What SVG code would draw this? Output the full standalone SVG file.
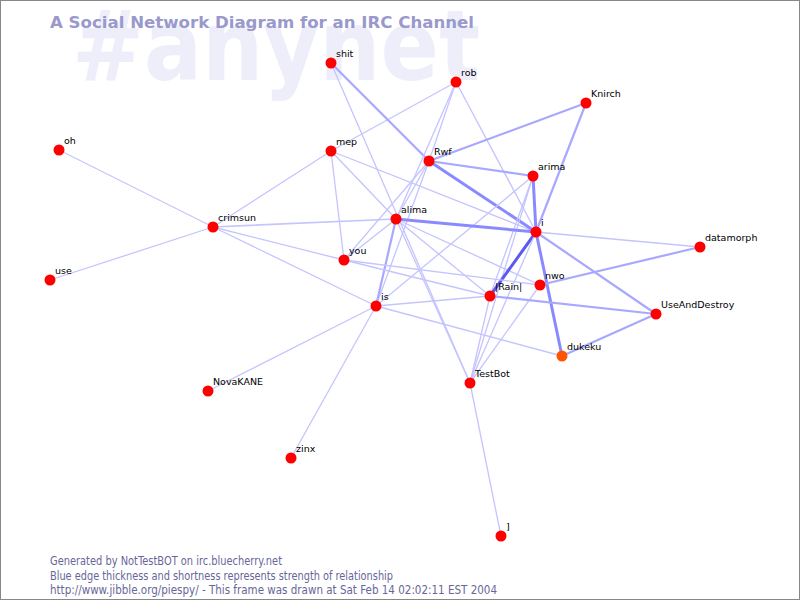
<svg xmlns="http://www.w3.org/2000/svg" width="800" height="600" viewBox="0 0 800 600">
<style>
.bg{fill:#ffffff;stroke:#888888;stroke-width:1}
.wm{font-family:"DejaVu Sans",sans-serif;font-weight:bold;font-size:98px;fill:#eeeefb}
.title{font-family:"DejaVu Sans",sans-serif;font-weight:bold;font-size:16.5px;fill:#9999cc}
.foot{font-family:"DejaVu Sans",sans-serif;font-size:11.5px;fill:#666699}
.lbl{font-family:"DejaVu Sans",sans-serif;font-size:9.5px;fill:#000000}
.n{fill:#ff0000}
.n2{fill:#ff5500}
line{stroke-linecap:round}
.t{stroke:#c4c4ff;stroke-width:1.3}
.m{stroke:#a8a8ff;stroke-width:2.2}
.k{stroke:#8a8aff;stroke-width:3}
.d{stroke:#5a5af0;stroke-width:3}
</style>
<rect class="bg" x="0.5" y="0.5" width="799" height="599"/>
<text class="wm" x="72" y="80" textLength="408" lengthAdjust="spacingAndGlyphs">#anynet</text>
<text class="title" x="50" y="28" textLength="424" lengthAdjust="spacingAndGlyphs">A Social Network Diagram for an IRC Channel</text>
<g id="connectors">
<line class="t" x1="59" y1="150" x2="213" y2="227"/>
<line class="t" x1="50" y1="280" x2="213" y2="227"/>
<line class="t" x1="213" y1="227" x2="331" y2="151"/>
<line class="t" x1="213" y1="227" x2="396" y2="219" style="stroke-width:1.7"/>
<line class="t" x1="213" y1="227" x2="344" y2="260"/>
<line class="t" x1="213" y1="227" x2="376" y2="306"/>
<line class="t" x1="208" y1="391" x2="376" y2="306"/>
<line class="t" x1="291" y1="458" x2="376" y2="306"/>
<line class="t" x1="331" y1="151" x2="456" y2="82"/>
<line class="t" x1="331" y1="151" x2="344" y2="260"/>
<line class="t" x1="331" y1="151" x2="396" y2="219"/>
<line class="t" x1="331" y1="151" x2="536" y2="232"/>
<line class="m" x1="331" y1="63" x2="429" y2="161"/>
<line class="t" x1="331" y1="63" x2="470" y2="383"/>
<line class="t" x1="456" y1="82" x2="429" y2="161"/>
<line class="t" x1="456" y1="82" x2="396" y2="219"/>
<line class="t" x1="456" y1="82" x2="536" y2="232"/>
<line class="m" x1="586" y1="103" x2="429" y2="161"/>
<line class="m" x1="586" y1="103" x2="536" y2="232"/>
<line class="m" x1="429" y1="161" x2="533" y2="176"/>
<line class="k" x1="429" y1="161" x2="536" y2="232"/>
<line class="t" x1="429" y1="161" x2="344" y2="260"/>
<line class="t" x1="429" y1="161" x2="376" y2="306"/>
<line class="t" x1="429" y1="161" x2="396" y2="219"/>
<line class="k" x1="533" y1="176" x2="536" y2="232"/>
<line class="t" x1="533" y1="176" x2="376" y2="306"/>
<line class="t" x1="533" y1="176" x2="490" y2="296"/>
<line class="t" x1="533" y1="176" x2="470" y2="383"/>
<line class="k" x1="396" y1="219" x2="536" y2="232"/>
<line class="m" x1="396" y1="219" x2="376" y2="306"/>
<line class="t" x1="396" y1="219" x2="344" y2="260"/>
<line class="t" x1="396" y1="219" x2="490" y2="296"/>
<line class="t" x1="396" y1="219" x2="540" y2="285"/>
<line class="t" x1="396" y1="219" x2="470" y2="383"/>
<line class="t" x1="536" y1="232" x2="700" y2="247"/>
<line class="d" x1="536" y1="232" x2="490" y2="296"/>
<line class="k" x1="536" y1="232" x2="562" y2="356"/>
<line class="m" x1="536" y1="232" x2="656" y2="314"/>
<line class="t" x1="536" y1="232" x2="470" y2="383"/>
<line class="m" x1="540" y1="285" x2="700" y2="247"/>
<line class="t" x1="540" y1="285" x2="470" y2="383"/>
<line class="t" x1="344" y1="260" x2="540" y2="285"/>
<line class="t" x1="344" y1="260" x2="490" y2="296"/>
<line class="t" x1="376" y1="306" x2="490" y2="296"/>
<line class="t" x1="376" y1="306" x2="562" y2="356"/>
<line class="m" x1="490" y1="296" x2="656" y2="314"/>
<line class="t" x1="490" y1="296" x2="470" y2="383"/>
<line class="t" x1="470" y1="383" x2="501" y2="536"/>
<line class="m" x1="656" y1="314" x2="562" y2="356"/>
</g>
<g id="node-shit"><circle class="n" cx="331" cy="63" r="5.5"/><text class="lbl" x="336" y="57">shit</text></g>
<g id="node-rob"><circle class="n" cx="456" cy="82" r="5.5"/><text class="lbl" x="461" y="76">rob</text></g>
<g id="node-Knirch"><circle class="n" cx="586" cy="103" r="5.5"/><text class="lbl" x="591" y="97">Knirch</text></g>
<g id="node-oh"><circle class="n" cx="59" cy="150" r="5.5"/><text class="lbl" x="64" y="144">oh</text></g>
<g id="node-mep"><circle class="n" cx="331" cy="151" r="5.5"/><text class="lbl" x="336" y="145">mep</text></g>
<g id="node-Rwf"><circle class="n" cx="429" cy="161" r="5.5"/><text class="lbl" x="434" y="155">Rwf</text></g>
<g id="node-arima"><circle class="n" cx="533" cy="176" r="5.5"/><text class="lbl" x="538" y="170">arima</text></g>
<g id="node-crimsun"><circle class="n" cx="213" cy="227" r="5.5"/><text class="lbl" x="218" y="221">crimsun</text></g>
<g id="node-alima"><circle class="n" cx="396" cy="219" r="5.5"/><text class="lbl" x="401" y="213">alima</text></g>
<g id="node-i"><circle class="n" cx="536" cy="232" r="5.5"/><text class="lbl" x="541" y="226">i</text></g>
<g id="node-datamorph"><circle class="n" cx="700" cy="247" r="5.5"/><text class="lbl" x="705" y="241">datamorph</text></g>
<g id="node-use"><circle class="n" cx="50" cy="280" r="5.5"/><text class="lbl" x="55" y="274">use</text></g>
<g id="node-you"><circle class="n" cx="344" cy="260" r="5.5"/><text class="lbl" x="349" y="254">you</text></g>
<g id="node-nwo"><circle class="n" cx="540" cy="285" r="5.5"/><text class="lbl" x="545" y="279">nwo</text></g>
<g id="node-Rain"><circle class="n" cx="490" cy="296" r="5.5"/><text class="lbl" x="495" y="290">|Rain|</text></g>
<g id="node-is"><circle class="n" cx="376" cy="306" r="5.5"/><text class="lbl" x="381" y="300">is</text></g>
<g id="node-UseAndDestroy"><circle class="n" cx="656" cy="314" r="5.5"/><text class="lbl" x="661" y="308">UseAndDestroy</text></g>
<g id="node-dukeku"><circle class="n2" cx="562" cy="356" r="5.5"/><text class="lbl" x="567" y="350">dukeku</text></g>
<g id="node-TestBot"><circle class="n" cx="470" cy="383" r="5.5"/><text class="lbl" x="475" y="377">TestBot</text></g>
<g id="node-NovaKANE"><circle class="n" cx="208" cy="391" r="5.5"/><text class="lbl" x="213" y="385">NovaKANE</text></g>
<g id="node-zinx"><circle class="n" cx="291" cy="458" r="5.5"/><text class="lbl" x="296" y="452">zinx</text></g>
<g id="node-bracket"><circle class="n" cx="501" cy="536" r="5.5"/><text class="lbl" x="506" y="530">]</text></g>
<text class="foot" x="50" y="565" textLength="232" lengthAdjust="spacingAndGlyphs">Generated by NotTestBOT on irc.bluecherry.net</text>
<text class="foot" x="50" y="580" textLength="343" lengthAdjust="spacingAndGlyphs">Blue edge thickness and shortness represents strength of relationship</text>
<text class="foot" x="50" y="594" textLength="447" lengthAdjust="spacingAndGlyphs">http://www.jibble.org/piespy/ - This frame was drawn at Sat Feb 14 02:02:11 EST 2004</text>
</svg>
